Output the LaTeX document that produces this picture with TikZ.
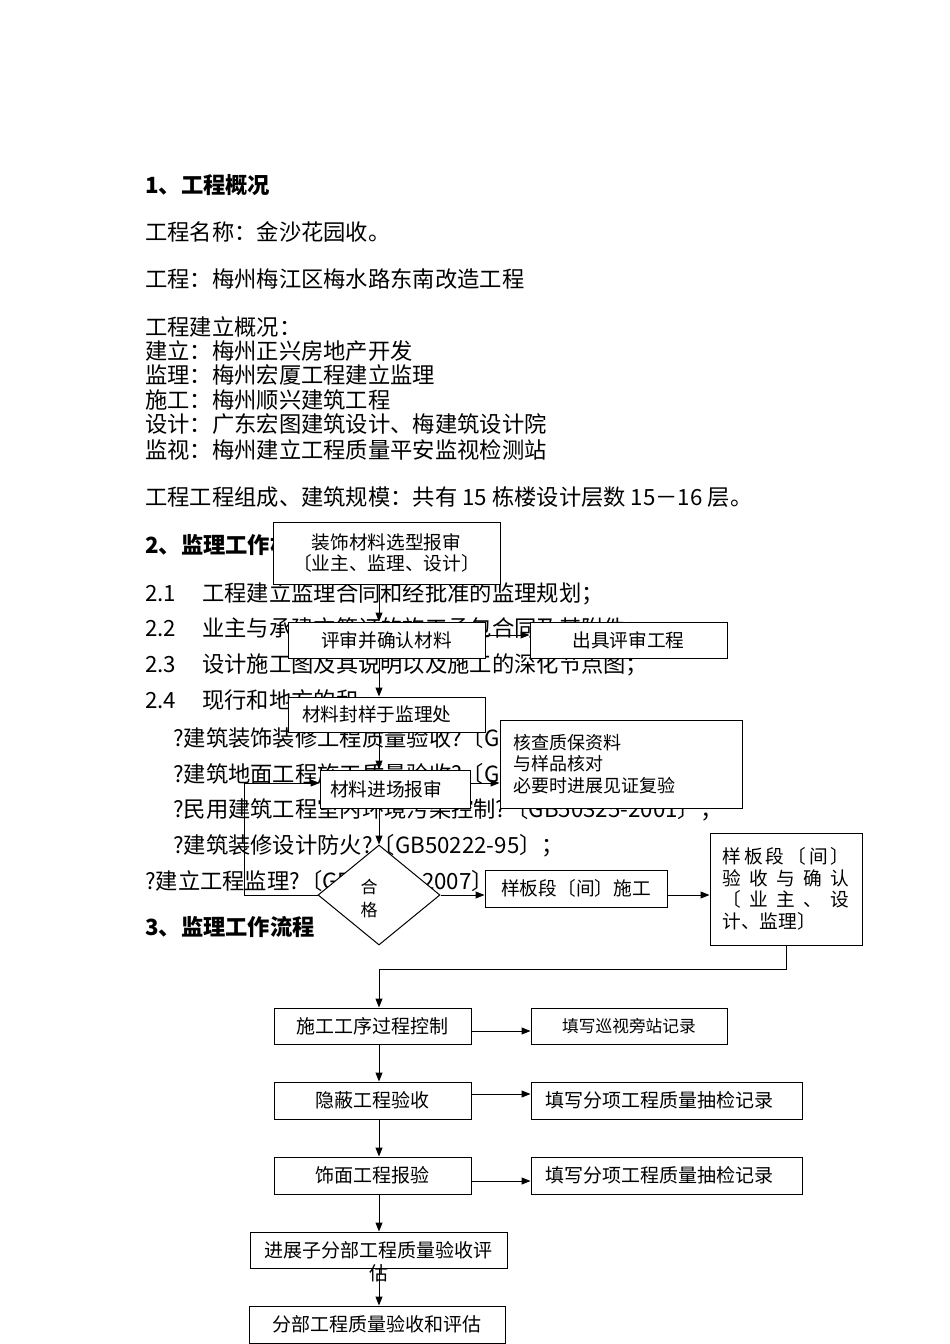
\documentclass[tikz,border=0pt]{standalone}
\usepackage{fontspec}
\setmainfont{Noto Sans CJK SC}
\usetikzlibrary{arrows.meta,shapes.geometric,calc}

\newcommand{\bodysize}{\fontsize{22.3}{26}\selectfont}
\newcommand{\boxsize}{\fontsize{18.7}{21}\selectfont}
\newcommand{\lowsize}{\fontsize{19}{22}\selectfont}
\newcommand{\itemno}[1]{\makebox[57pt][l]{#1}}
\newcommand{\spreadline}[1]{\makebox[127pt][s]{#1}}

\begin{document}
\begin{tikzpicture}[x=1pt,y=-1pt,
      txt/.style={anchor=west,inner sep=0pt,font=\bodysize,
                  text height=19pt,text depth=2pt},
      head/.style={txt,font=\bodysize\bfseries},
      fbox/.style={rectangle,draw,fill=white,line width=1pt,
                   inner sep=0pt,font=\boxsize,align=center},
      arr/.style={-{Triangle[length=9pt,width=7pt]},line width=1pt},
    ]
    \useasboundingbox (0,0) rectangle (950,1344);

    % page text
    \node[head] (h1)    at (145,185) {1、工程概况};
    \node[txt]  (name)  at (145,232) {工程名称：金沙花园收。};
    \node[txt]  (proj)  at (145,279) {工程：梅州梅江区梅水路东南改造工程};
    \node[txt]  (org)   at (145,327) {工程建立概况：};
    \node[txt]  (own)   at (145,351) {建立：梅州正兴房地产开发};
    \node[txt]  (sup)   at (145,375) {监理：梅州宏厦工程建立监理};
    \node[txt]  (con)   at (145,400) {施工：梅州顺兴建筑工程};
    \node[txt]  (des)   at (145,424) {设计：广东宏图建筑设计、梅建筑设计院};
    \node[txt]  (ins)   at (145,450) {监视：梅州建立工程质量平安监视检测站};
    \node[txt]  (size)  at (145,497) {工程工程组成、建筑规模：共有\hspace{5pt}15\hspace{5pt}栋楼设计层数\hspace{5pt}15－16\hspace{5pt}层。};
    \node[head] (h2)    at (145,545) {2、监理工作根据};
    \node[txt]  (b1)    at (145,593) {\itemno{2.1}工程建立监理合同和经批准的监理规划；};
    \node[txt]  (b2)    at (145,628) {\itemno{2.2}业主与承建方签订的施工承包合同及其附件；};
    \node[txt]  (b3)    at (145,664) {\itemno{2.3}设计施工图及其说明以及施工的深化节点图；};
    \node[txt]  (b4)    at (145,700) {\itemno{2.4}现行和地方的和};
    \node[txt]  (g1)    at (173,738) {?建筑装饰装修工程质量验收?〔GB50210-2001〕；};
    \node[txt]  (g2)    at (173,774) {?建筑地面工程施工质量验收?〔GB50209-2010〕；};
    \node[txt]  (g3)    at (173,809) {?民用建筑工程室内环境污染控制?〔GB50325-2001〕；};
    \node[txt]  (g4)    at (173,845) {?建筑装修设计防火?〔GB50222-95〕；};
    \node[txt]  (g5)    at (145,881) {?建立工程监理?〔GB50319-2007〕。};
    \node[head] (h3)    at (145,927) {3、监理工作流程};

    % material approval
    \node[fbox,minimum width=227pt,minimum height=62pt] (sel) at (386.5,553) {装饰材料选型报审\\〔业主、监理、设计〕};
    \node[fbox,minimum width=197pt,minimum height=36pt] (rev) at (386.5,640) {评审并确认材料};
    \node[fbox,minimum width=197pt,minimum height=36pt] (out) at (628.5,640) {出具评审工程};
    \node[fbox,text width=169pt,inner xsep=14pt,minimum height=35pt,align=left]
                 (seal) at (386.5,714.5) {材料封样于监理处};
    \node[fbox,text width=130pt,inner xsep=10pt,minimum height=38pt,align=left]
                 (inc) at (395,789) {材料进场报审};
    \node[fbox,text width=216pt,inner xsep=13pt,minimum height=88pt,align=left,
          font=\fontsize{18}{21.5}\selectfont]
                 (chk) at (621,764) {核查质保资料\\与样品核对\\必要时进展见证复验};
    \node[diamond,draw,fill=white,line width=1pt,aspect=1.2,inner sep=0pt,
          minimum width=122pt,minimum height=100pt] (ok) at (379,895) {};
    \node[align=center,inner sep=0pt,font=\fontsize{17}{23}\selectfont] (okt) at (369,899) {合\\格};
    \node[fbox,minimum width=182pt,minimum height=37pt] (smp) at (576,888.5) {样板段〔间〕施工};
    \node[fbox,text width=127pt,inner xsep=12.5pt,minimum height=112pt,align=left,
          font=\fontsize{18.7}{21.7}\selectfont]
                 (acc) at (786,889) {\spreadline{样\hfill 板\hfill 段\hfill 〔\hfill 间\hfill 〕}\\
                                     \spreadline{验\hfill 收\hfill 与\hfill 确\hfill 认}\\
                                     \spreadline{〔\hfill 业\hfill 主\hfill 、\hfill 设}\\
                                     计、监理〕};

    % site inspection
    \node[fbox,minimum width=197pt,minimum height=36pt,font=\lowsize] (ctl) at (372.5,1026) {施工工序过程控制};
    \node[fbox,minimum width=196pt,minimum height=36pt,font=\fontsize{16.7}{20}\selectfont]
                 (pat) at (629,1026) {填写巡视旁站记录};
    \node[fbox,minimum width=197pt,minimum height=37pt,font=\lowsize] (hid) at (372.5,1100.5) {隐蔽工程验收};
    \node[fbox,text width=243pt,inner xsep=14pt,minimum height=37pt,align=left,font=\lowsize]
                 (rec1) at (666.5,1100.5) {填写分项工程质量抽检记录};
    \node[fbox,minimum width=197pt,minimum height=37pt,font=\lowsize] (fin) at (372.5,1175.5) {饰面工程报验};
    \node[fbox,text width=243pt,inner xsep=14pt,minimum height=37pt,align=left,font=\lowsize]
                 (rec2) at (666.5,1175.5) {填写分项工程质量抽检记录};
    \node[fbox,minimum width=257pt,minimum height=36pt,font=\lowsize] (sub) at (378.5,1250) {进展子分部工程质量验收评};
    \node[inner sep=0pt,font=\lowsize] (subw) at (379,1273) {估};
    \node[fbox,minimum width=256pt,minimum height=37pt,font=\lowsize] (div) at (377,1324.5) {分部工程质量验收和评估};

    \coordinate (col)  at (379,0);
    \coordinate (loop) at (244,0);
    \coordinate (ret)  at (379,969);
    \coordinate (incr) at ([yshift=6pt]inc.east);
    \coordinate (incl) at ([yshift=6pt]inc.west);

    \draw[arr] (sel.south -| col) -- (rev.north -| col);
    \draw[arr] ([yshift=5pt]rev.east) -- ([yshift=5pt]out.west);
    \draw[arr] (rev.south -| col) -- (seal.north -| col);
    \draw[arr] (seal.south -| col) -- (inc.north -| col);
    \draw[arr] (incr) -- (incr -| chk.west);
    \draw[arr] (inc.south -| col) -- (ok.north);
    \draw[arr] (ok.west) -- (ok.west -| loop) |- (incl);
    \draw[arr] (ok.east) -- (ok.east -| smp.west);
    \draw[arr] (ok.east -| smp.east) -- (ok.east -| acc.west);
    \draw[arr] (acc.south) |- (ret) -- (ctl.north -| col);

    \draw[arr] ([yshift=-5pt]ctl.east) -- ([yshift=-5pt]pat.west);
    \draw[arr] (ctl.south -| col) -- (hid.north -| col);
    \draw[arr] ([yshift=6.5pt]hid.east) -- ([yshift=6.5pt]rec1.west);
    \draw[arr] (hid.south -| col) -- (fin.north -| col);
    \draw[arr] ([yshift=-5.5pt]fin.east) -- ([yshift=-5.5pt]rec2.west);
    \draw[arr] (fin.south -| col) -- (sub.north -| col);
    \draw[arr] (sub.south -| col) -- (div.north -| col);
  \end{tikzpicture}
\end{document}
